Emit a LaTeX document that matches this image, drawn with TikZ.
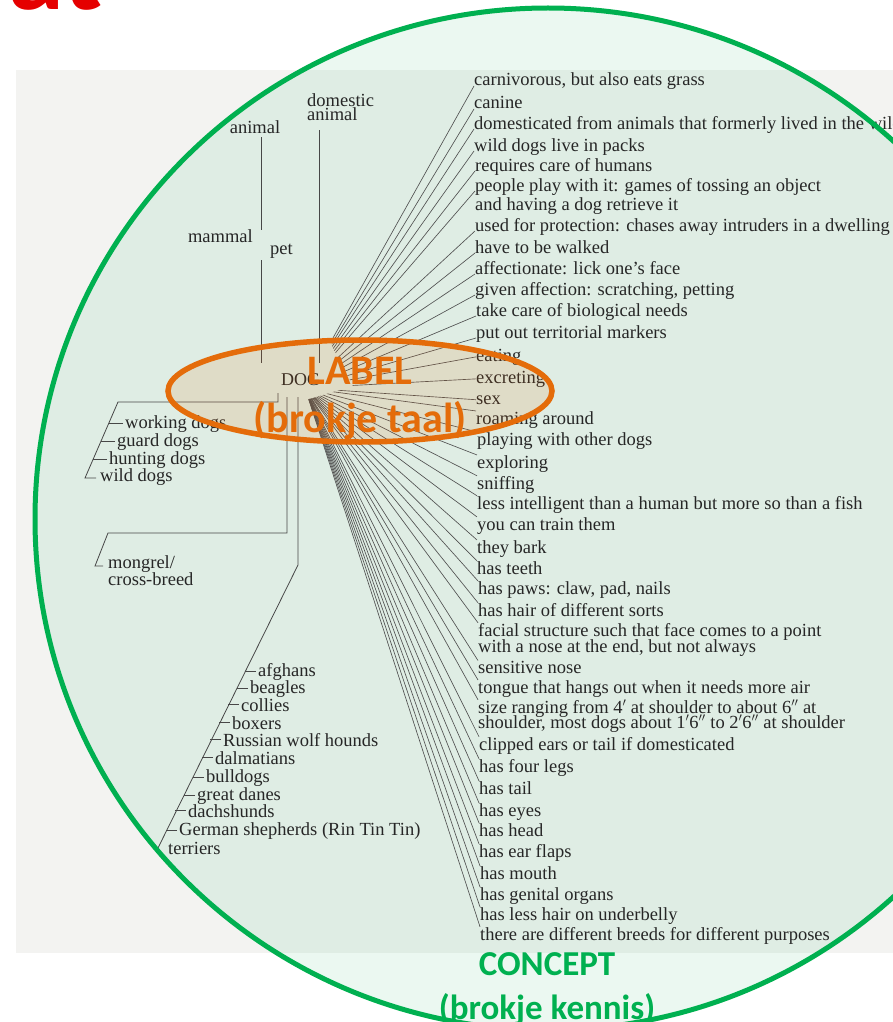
\documentclass[tikz,border=0pt]{standalone}
\usepackage{fontspec}
\setmainfont{Liberation Serif}
\newfontfamily\calib{Carlito}
\usetikzlibrary{calc}
\definecolor{pptgreen}{HTML}{00B050}
\definecolor{pptorange}{HTML}{E46C0A}
\definecolor{scan}{HTML}{F3F3F1}
\definecolor{ink}{HTML}{262626}
\tikzset{
  feat/.style={anchor=base west,inner sep=0pt,text=ink,font=\fontsize{18.5}{21}\selectfont},
  term/.style={inner sep=0pt,text=ink,font=\fontsize{18.5}{17}\selectfont},
  tree/.style={draw=ink!85,line width=0.8pt},
  fan/.style={draw=ink!80,line width=0.65pt},
  big/.style={inner sep=0pt,font=\calib\bfseries,align=center}
}
\begin{document}
\begin{tikzpicture}[x=1pt,y=-1pt]
 \useasboundingbox (0,0) rectangle (893,1022);
 \fill[white] (0,0) rectangle (893,1022);
 \node (ttl) at (8,10) [anchor=base west,inner sep=0pt,text=red!90!black,font=\calib\bfseries\fontsize{113}{113}\selectfont] {at};
 \fill[scan] (16,70) rectangle (893,953);
 \fill[pptgreen,opacity=0.08] (548,519) ellipse [x radius=513, y radius=511];

 % hierarchy above the label
 \node (animal) at (255,133) [term,anchor=base] {animal};
 \node (domestic) at (307,93) [term,anchor=north west,align=left,font=\fontsize{18.5}{14}\selectfont] {domestic\\animal};
 \node (mammal) at (253,242) [term,anchor=base east] {mammal};
 \node (pet) at (270,254) [term,anchor=base west] {pet};
 \node (dog) at (281,386) [inner sep=0pt,anchor=south west,text=ink,font=\fontsize{18}{18}\selectfont] {DOG};
 \draw[tree] (animal.base) ++(6,4) -- ++(0,93) ++(0,30) -- ++(0,103);
 \draw[tree] (domestic.south west) ++(12,10) -- ++(0,233);

 % kinds of dogs
 \node (working) at (125,428) [term,anchor=base west] {working dogs};
 \node (guard) at (117,446) [term,anchor=base west] {guard dogs};
 \node (hunting) at (109,464) [term,anchor=base west] {hunting dogs};
 \node (wild) at (100,481) [term,anchor=base west] {wild dogs};
 \draw[tree] (dog.south west) ++(-3,7) -- ++(0,9) -- ++(-160,0) -- ++(-33,76) -- ++(11,0);
 \draw[tree] ([xshift=-2pt]working.west) -- ++(-14,0);
 \draw[tree] ([xshift=-2pt]guard.west) -- ++(-14,0);
 \draw[tree] ([xshift=-2pt]hunting.west) -- ++(-14,0);
 \node (mongrel) at (108,555) [term,anchor=north west,align=left] {mongrel/\\cross-breed};
 \draw[tree] (dog.south west) ++(6,11) -- ++(0,136) -- ++(-179,0) -- ++(-13,33) -- ++(8,0);

 % breeds
 \node (afghans) at (258,676) [term,anchor=base west] {afghans};
 \node (beagles) at (250,693) [term,anchor=base west] {beagles};
 \node (collies) at (241,711) [term,anchor=base west] {collies};
 \node (boxers) at (232,729) [term,anchor=base west] {boxers};
 \node (russian) at (223,746) [term,anchor=base west] {Russian wolf hounds};
 \node (dalmatians) at (215,764) [term,anchor=base west] {dalmatians};
 \node (bulldogs) at (206,782) [term,anchor=base west] {bulldogs};
 \node (danes) at (197,800) [term,anchor=base west] {great danes};
 \node (dachshunds) at (188,817) [term,anchor=base west] {dachshunds};
 \node (shepherds) at (179,835) [term,anchor=base west] {German shepherds (Rin Tin Tin)};
 \node (terriers) at (168,854) [term,anchor=base west] {terriers};
 \draw[tree] (dog.south west) ++(17,11) -- ++(0,168) -- ++(-141,285);
 \draw[tree] ([xshift=-2pt]afghans.west) -- ++(-11,0);
 \draw[tree] ([xshift=-2pt]beagles.west) -- ++(-11,0);
 \draw[tree] ([xshift=-2pt]collies.west) -- ++(-11,0);
 \draw[tree] ([xshift=-2pt]boxers.west) -- ++(-11,0);
 \draw[tree] ([xshift=-2pt]russian.west) -- ++(-11,0);
 \draw[tree] ([xshift=-2pt]dalmatians.west) -- ++(-11,0);
 \draw[tree] ([xshift=-2pt]bulldogs.west) -- ++(-11,0);
 \draw[tree] ([xshift=-2pt]danes.west) -- ++(-11,0);
 \draw[tree] ([xshift=-2pt]dachshunds.west) -- ++(-11,0);
 \draw[tree] ([xshift=-2pt]shepherds.west) -- ++(-11,0);

 % features of the concept
 \node (f1) at (474,86) [feat] {carnivorous, but also eats grass};
 \node (f2) at (474,109) [feat] {canine};
 \node (f3) at (474,129) [feat] {domesticated from animals that formerly lived in the wild};
 \node (f4) at (474,151) [feat] {wild dogs live in packs};
 \node (f5) at (475,171) [feat] {requires care of humans};
 \node (f6) at (475,191) [feat] {people play with it: games of tossing an object};
 \node (f6b) at (475,210) [feat] {and having a dog retrieve it};
 \node (f7) at (475,231) [feat] {used for protection: chases away intruders in a dwelling};
 \node (f8) at (475,253) [feat] {have to be walked};
 \node (f9) at (475,274) [feat] {affectionate: lick one's face};
 \node (f10) at (475,295) [feat] {given affection: scratching, petting};
 \node (f11) at (476,316) [feat] {take care of biological needs};
 \node (f12) at (476,338) [feat] {put out territorial markers};
 \node (f13) at (476,361) [feat] {eating};
 \node (f14) at (476,383) [feat] {excreting};
 \node (f15) at (476,404) [feat] {sex};
 \node (f16) at (476,424) [feat] {roaming around};
 \node (f17) at (477,445) [feat] {playing with other dogs};
 \node (f18) at (477,468) [feat] {exploring};
 \node (f19) at (477,489) [feat] {sniffing};
 \node (f20) at (477,509) [feat] {less intelligent than a human but more so than a fish};
 \node (f21) at (477,530) [feat] {you can train them};
 \node (f22) at (477,553) [feat] {they bark};
 \node (f23) at (477,574) [feat] {has teeth};
 \node (f24) at (478,594) [feat] {has paws: claw, pad, nails};
 \node (f25) at (478,616) [feat] {has hair of different sorts};
 \node (f26) at (478,636) [feat] {facial structure such that face comes to a point};
 \node (f26b) at (478,652) [feat] {with a nose at the end, but not always};
 \node (f27) at (478,673) [feat] {sensitive nose};
 \node (f28) at (478,693) [feat] {tongue that hangs out when it needs more air};
 \node (f29) at (478,713) [feat] {size ranging from 4$'$ at shoulder to about 6$''$ at};
 \node (f29b) at (478,728) [feat] {shoulder, most dogs about 1$'$6$''$ to 2$'$6$''$ at shoulder};
 \node (f30) at (479,750) [feat] {clipped ears or tail if domesticated};
 \node (f31) at (479,772) [feat] {has four legs};
 \node (f32) at (479,794) [feat] {has tail};
 \node (f33) at (479,816) [feat] {has eyes};
 \node (f34) at (479,836) [feat] {has head};
 \node (f35) at (479,857) [feat] {has ear flaps};
 \node (f36) at (480,879) [feat] {has mouth};
 \node (f37) at (480,900) [feat] {has genital organs};
 \node (f38) at (480,920) [feat] {has less hair on underbelly};
 \node (f39) at (480,940) [feat] {there are different breeds for different purposes};

 \coordinate (hub) at (305,388);
 \begin{scope}
 \clip (328,200) -- (332,346) -- (353,386) -- (303,401) -- (300,960) -- (490,960) -- (490,60) -- cycle;
 \draw[fan] (hub) -- (f1.base west);
 \draw[fan] (hub) -- (f2.base west);
 \draw[fan] (hub) -- (f3.base west);
 \draw[fan] (hub) -- (f4.base west);
 \draw[fan] (hub) -- (f5.base west);
 \draw[fan] (hub) -- (f6.base west);
 \draw[fan] (hub) -- (f7.base west);
 \draw[fan] (hub) -- (f8.base west);
 \draw[fan] (hub) -- (f9.base west);
 \draw[fan] (hub) -- (f10.base west);
 \draw[fan] (hub) -- (f11.base west);
 \draw[fan] (hub) -- (f12.base west);
 \draw[fan] (hub) -- (f13.west);
 \draw[fan] (hub) -- (f14.west);
 \draw[fan] (hub) -- (f15.west);
 \draw[fan] (hub) -- (f16.north west);
 \draw[fan] (hub) -- (f17.north west);
 \draw[fan] (hub) -- (f18.north west);
 \draw[fan] (hub) -- (f19.north west);
 \draw[fan] (hub) -- (f20.north west);
 \draw[fan] (hub) -- (f21.north west);
 \draw[fan] (hub) -- (f22.north west);
 \draw[fan] (hub) -- (f23.north west);
 \draw[fan] (hub) -- (f24.north west);
 \draw[fan] (hub) -- (f25.north west);
 \draw[fan] (hub) -- (f26.north west);
 \draw[fan] (hub) -- (f27.north west);
 \draw[fan] (hub) -- (f28.north west);
 \draw[fan] (hub) -- (f29.north west);
 \draw[fan] (hub) -- (f30.north west);
 \draw[fan] (hub) -- (f31.north west);
 \draw[fan] (hub) -- (f32.north west);
 \draw[fan] (hub) -- (f33.north west);
 \draw[fan] (hub) -- (f34.north west);
 \draw[fan] (hub) -- (f35.north west);
 \draw[fan] (hub) -- (f36.north west);
 \draw[fan] (hub) -- (f37.north west);
 \draw[fan] (hub) -- (f38.north west);
 \draw[fan] (hub) -- (f39.north west);
 \end{scope}

 % label and concept
 \draw[pptorange,line width=5.5pt,fill=pptorange,fill opacity=0.13] (360,391) ellipse [x radius=192, y radius=51];
 \node (label) at (360,357) [big,anchor=north,text=pptorange,font=\calib\bfseries\fontsize{42}{48}\selectfont] {LABEL\\(brokje taal)};
 \draw[pptgreen,line width=5pt] (548,519) ellipse [x radius=513, y radius=511];
 \node (concept) at (547,952) [big,anchor=north,text=pptgreen,font=\calib\bfseries\fontsize{35}{44}\selectfont] {CONCEPT\\(brokje kennis)};
\end{tikzpicture}
\end{document}
